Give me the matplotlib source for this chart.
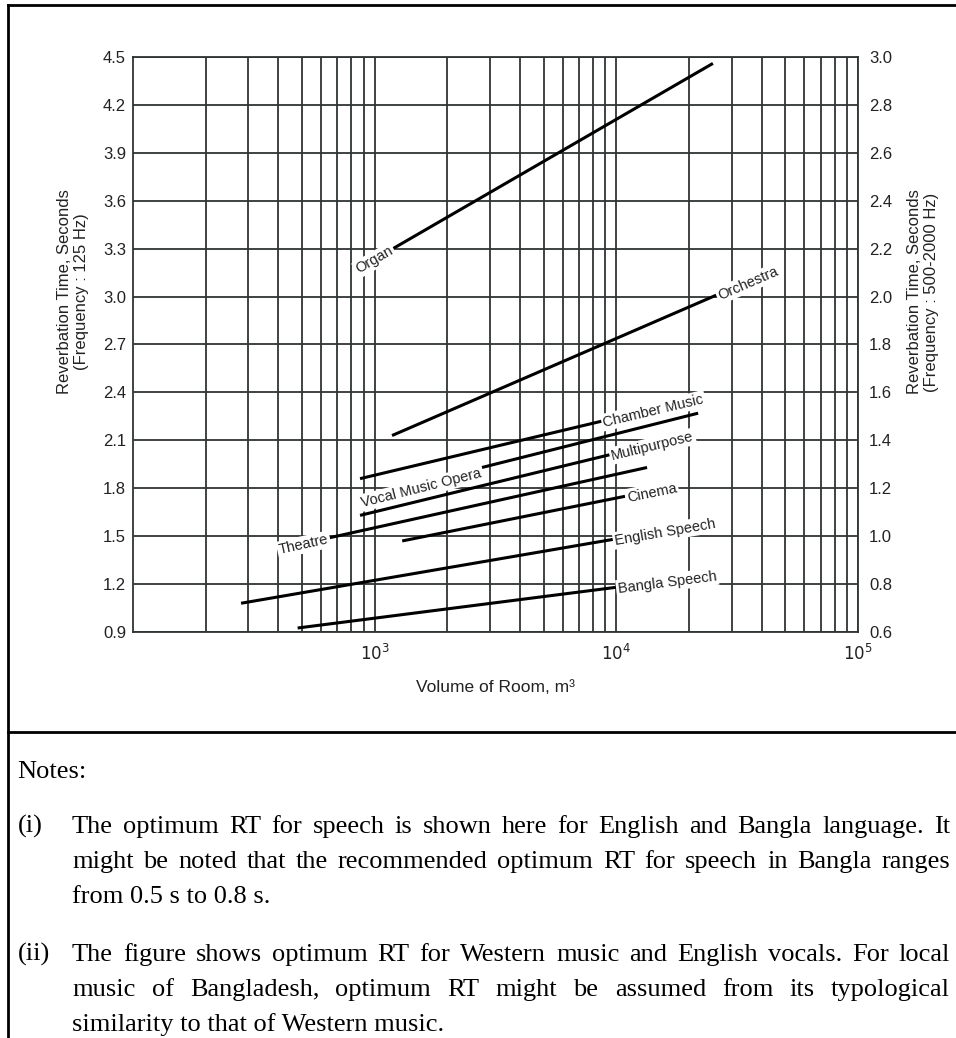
import numpy as np
import matplotlib
matplotlib.use("Agg")
import matplotlib.pyplot as plt
from matplotlib.lines import Line2D
from matplotlib.ticker import NullFormatter, FixedLocator

# Optimum reverberation time lines: volume (m3) and RT (s, 125 Hz scale) at each end
names = ['Organ', 'Orchestra', 'Chamber Music', 'Vocal Music Opera', 'Multipurpose',
         'Theatre', 'Cinema', 'English Speech', 'Bangla Speech']
vol_start = [1190, 1180, 870, 2780, 870, 650, 1300, 280, 480]
vol_end = [25100, 26000, 8700, 21800, 9400, 13400, 10900, 9700, 10000]
rt_start = [3.30, 2.13, 1.86, 1.93, 1.63, 1.49, 1.47, 1.08, 0.925]
rt_end = [4.46, 3.01, 2.22, 2.27, 2.01, 1.93, 1.75, 1.48, 1.18]
label_at = ['start', 'end', 'end', 'start', 'end', 'start', 'end', 'end', 'end']

left_ticks = [0.9, 1.2, 1.5, 1.8, 2.1, 2.4, 2.7, 3.0, 3.3, 3.6, 3.9, 4.2, 4.5]
right_ticks = [0.6, 0.8, 1.0, 1.2, 1.4, 1.6, 1.8, 2.0, 2.2, 2.4, 2.6, 2.8, 3.0]
x_ticks = [1e3, 1e4, 1e5]
x_ticklabels = ['$10^3$', '$10^4$', '$10^5$']

note_title = 'Notes:'
note_i = ['The optimum RT for speech is shown here for English and Bangla language. It',
          'might be noted that the recommended optimum RT for speech in Bangla ranges',
          'from 0.5 s to 0.8 s.']
note_ii = ['The figure shows optimum RT for Western music and English vocals. For local',
           'music of Bangladesh, optimum RT might be assumed from its typological',
           'similarity to that of Western music.']

W, H = 956, 1038
sans = ['Liberation Sans', 'DejaVu Sans']
serif = ['Liberation Serif', 'DejaVu Serif']
grid_c = '#2f3434'
text_c = '#222222'

fig = plt.figure(figsize=(W / 100, H / 100), dpi=100)
fig.patch.set_facecolor('white')

ax = fig.add_axes([133 / W, 1 - 632 / H, 725 / W, 575 / H])
ax.set_xscale('log')
ax.set_xlim(1e2, 1e5)
ax.set_ylim(0.9, 4.5)
ax.set_yticks(left_ticks)
ax.set_yticklabels([f'{t:.1f}' for t in left_ticks], family=sans, fontsize=12, color=text_c)
ax.xaxis.set_major_locator(FixedLocator(x_ticks))
ax.set_xticklabels(x_ticklabels, family=sans, fontsize=12, color=text_c)
ax.xaxis.set_minor_formatter(NullFormatter())
ax.tick_params(which='both', length=0)
ax.tick_params(axis='y', pad=5)
ax.tick_params(axis='x', pad=8)
ax.grid(axis='x', which='both', color=grid_c, lw=1.3, zorder=1)
ax.grid(axis='y', which='major', color=grid_c, lw=1.3, zorder=1)
ax.set_axisbelow(True)
for s in ax.spines.values():
    s.set_color(grid_c)
    s.set_linewidth(1.3)

ax2 = ax.twinx()
ax2.set_ylim(0.6, 3.0)
ax2.set_yticks(right_ticks)
ax2.set_yticklabels([f'{t:.1f}' for t in right_ticks], family=sans, fontsize=12, color=text_c)
ax2.tick_params(length=0, pad=8)
for s in ax2.spines.values():
    s.set_visible(False)

# draw the lines, then label each one along its own slope
fig.canvas.draw()
for name, v0, v1, r0, r1, side in zip(names, vol_start, vol_end, rt_start, rt_end, label_at):
    ax.plot([v0, v1], [r0, r1], color='black', lw=2.2, zorder=3, solid_capstyle='butt')
    p0 = ax.transData.transform((v0, r0))
    p1 = ax.transData.transform((v1, r1))
    ang = np.degrees(np.arctan2(p1[1] - p0[1], p1[0] - p0[0]))
    if side == 'end':
        xy, ha, off = (v1, r1), 'left', (1, 0)
    else:
        xy, ha, off = (v0, r0), 'right', (-1, 0)
    if name == 'Vocal Music Opera':
        off = (-1, -3)
    ax.annotate(name, xy=xy, xytext=off, textcoords='offset points',
                ha=ha, va='center_baseline', rotation=ang, rotation_mode='anchor',
                family=sans, fontsize=10.5, color=text_c, zorder=4,
                bbox=dict(boxstyle='square,pad=0.12', fc='white', ec='none'))

fig.text(73 / W, 1 - 292 / H, 'Reverbation Time, Seconds\n(Frequency : 125 Hz)',
         rotation=90, ha='center', va='center', multialignment='center',
         family=sans, fontsize=12, color=text_c)
fig.text(923 / W, 1 - 292 / H, 'Reverbation Time, Seconds\n(Frequency : 500-2000 Hz)',
         rotation=90, ha='center', va='center', multialignment='center',
         family=sans, fontsize=12, color=text_c)
fig.text(496 / W, 1 - 688 / H, 'Volume of Room, m³', ha='center', va='center',
         family=sans, fontsize=12.5, color=text_c)

# frame lines around the figure and the notes
for xs, ys in [([8, 8], [5, H]), ([8, W], [5, 5]), ([8, W], [732, 732])]:
    fig.add_artist(Line2D([x / W for x in xs], [1 - y / H for y in ys],
                          transform=fig.transFigure, color='black', lw=2.0))

note_size = 19
rend = fig.canvas.get_renderer()


def put(x, y, s):
    return fig.text(x / W, 1 - y / H, s, ha='left', va='baseline',
                    family=serif, fontsize=note_size, color='black')


def justify(line, y, x0=72, x1=950):
    words = line.split(' ')
    arts = [put(0, y, w) for w in words]
    widths = [a.get_window_extent(rend).width for a in arts]
    gap = (x1 - x0 - sum(widths)) / (len(words) - 1)
    x = x0
    for a, w in zip(arts, widths):
        a.set_x(x / W)
        x += w + gap


put(17, 778, note_title)
for label, lines, base in [('(i)', note_i, 833), ('(ii)', note_ii, 961)]:
    put(18, base, label)
    for k, line in enumerate(lines):
        y = base + 35 * k
        if k < len(lines) - 1:
            justify(line, y)
        else:
            put(72, y, line)

fig.savefig('out.png', dpi=100, facecolor='white')
